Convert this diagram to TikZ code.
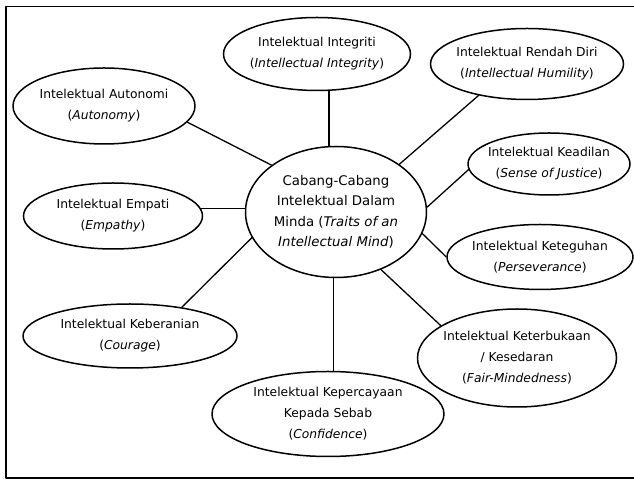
\documentclass[tikz,border=0pt]{standalone}
\usepackage{fontspec}
\setmainfont{DejaVu Sans}
\usetikzlibrary{shapes.geometric}

\begin{document}
\begin{tikzpicture}[line cap=round,line join=round,x=1pt,y=1pt,
		trait/.style={ellipse,draw,line width=1.5pt,inner sep=-6pt,align=center,
			font=\fontsize{12.3pt}{21pt}\selectfont},
		cabang/.style={line width=1.3pt}]
			\useasboundingbox (0,0) rectangle (634,481);
			%%%% BINGKAI
			\draw [line width=1.6pt] (634,474.5) -- (6,474.5) -- (6,3) -- (634,3);
			
			%%%% PUSAT
			\node[trait,minimum width=181pt,minimum height=131pt,
				font=\fontsize{13.3pt}{20.5pt}\selectfont] (minda) at (336,269)
				{Cabang-Cabang\\Intelektual Dalam\\Minda (\textit{Traits of an}\\\textit{Intellectual Mind})};
			
			%%%% CABANG
			\node[trait,minimum width=187pt,minimum height=73pt] (integ) at (317,427)
				{Intelektual Integriti\\(\textit{Intellectual Integrity})};
			\node[trait,minimum width=193pt,minimum height=71pt] (rendah) at (527,417)
				{Intelektual Rendah Diri\\(\textit{Intellectual Humility})};
			\node[trait,minimum width=182pt,minimum height=76pt] (auto) at (104,375)
				{Intelektual Autonomi\\(\textit{Autonomy})};
			\node[trait,minimum width=162pt,minimum height=62pt] (adil) at (549,317)
				{Intelektual Keadilan\\(\textit{Sense of Justice})};
			\node[trait,minimum width=179pt,minimum height=66pt] (empati) at (113,265)
				{Intelektual Empati\\(\textit{Empathy})};
			\node[trait,minimum width=186pt,minimum height=65pt] (teguh) at (540,224)
				{Intelektual Keteguhan\\(\textit{Perseverance})};
			\node[trait,minimum width=214pt,minimum height=64pt] (berani) at (130,145)
				{Intelektual Keberanian\\(\textit{Courage})};
			\node[trait,minimum width=199pt,minimum height=98pt] (buka) at (517,123)
				{Intelektual Keterbukaan\\/ Kesedaran\\(\textit{Fair-Mindedness})};
			\node[trait,minimum width=232pt,minimum height=85pt] (percaya) at (328,67)
				{Intelektual Kepercayaan\\Kepada Sebab\\(\textit{Confidence})};
			
			%%%% GARIS
			\draw [cabang] (minda.96) -- (minda.96 |- integ.south);
			\draw [cabang] (minda.37) -- (rendah.213);
			\draw [cabang] (minda.144) -- (auto.-11);
			\draw [cabang] (minda.3) -- (adil.184);
			\draw [cabang] (empati.5) -- (empati.5 -| minda.west);
			\draw [cabang] (minda.-14) -- (teguh.west);
			\draw [cabang] (minda.197) -- (berani.29);
			\draw [cabang] (minda.-52) -- (buka.157);
			\draw [cabang] (minda.-92) -- (minda.-92 |- percaya.north);
		\end{tikzpicture}
\end{document}
